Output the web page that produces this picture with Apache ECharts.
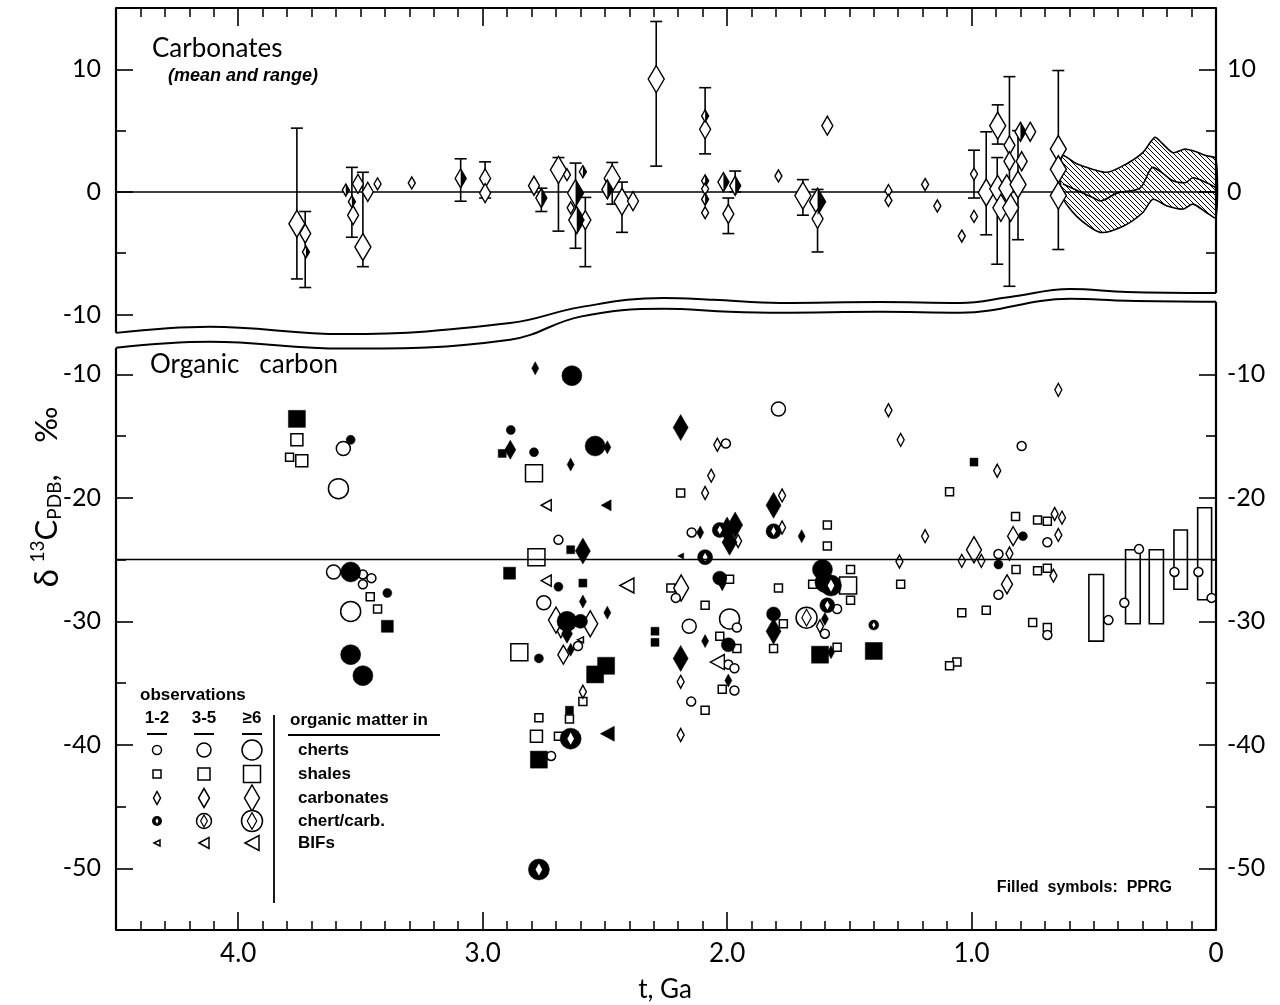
<!DOCTYPE html>
<html><head><meta charset="utf-8">
<script src="https://cdn.jsdelivr.net/npm/echarts@6/dist/echarts.min.js"></script>
<style>html,body{margin:0;padding:0;background:#fff}#c{width:1280px;height:1005px}</style>
</head><body><div id="c"></div>
<script>
// ---------------- DATA ----------------
const xTicks = [0, 1, 2, 3, 4];
const xTickLabels = ['0', '1.0', '2.0', '3.0', '4.0'];
const yTopMajorLeft = [-10, 0, 10];
const yTopMajorRight = [0, 10];
const yTopMinor = [-5, 5];
const yBotMajor = [-50, -40, -30, -20, -10];
const yBotMinor = [-45, -35, -25, -15];

// Carbonates (top panel): [t Ga, mean δ13C, observation class 1..3, PPRG 0/1]
const carbMeans = [
 [3.76,-2.6,3,0],[3.726,-3.4,2,0],[3.723,-4.9,1,1],
 [3.56,0.15,1,1],[3.535,-0.8,1,1],[3.53,-1.9,2,0],[3.51,0.65,2,0],[3.47,0.0,2,0],[3.43,0.65,1,0],[3.49,-4.5,3,0],
 [3.29,0.73,1,0],[3.09,1.1,2,1],[2.99,1.1,2,0],[2.99,-0.1,2,0],
 [2.79,0.5,2,0],[2.76,-0.5,2,1],
 [2.69,1.8,3,0],[2.655,1.4,1,0],[2.62,-0.1,3,1],[2.615,-2.3,3,1],[2.58,-2.3,2,0],[2.64,-1.3,1,0],[2.59,1.65,1,1],
 [2.47,1.1,3,0],[2.49,0.2,2,1],[2.43,-0.8,3,0],[2.385,-0.75,2,0],
 [2.29,9.2,3,0],
 [2.09,5.1,2,0],[2.09,6.2,1,1],[2.09,0.9,1,1],[2.09,0.25,1,0],[2.09,-0.6,1,1],[2.09,-1.7,1,0],
 [2.015,0.8,2,1],[1.967,0.5,2,1],[1.995,-1.8,2,0],
 [1.79,1.3,1,0],[1.59,5.4,2,0],
 [1.69,-0.3,3,0],[1.63,-0.8,3,1],[1.63,-2.2,2,0],
 [1.34,0.1,1,0],[1.34,-0.7,1,0],[1.19,0.6,1,0],[1.14,-1.15,1,0],[1.04,-3.6,1,0],
 [0.99,1.45,1,0],[0.99,-2.0,1,0],
 [0.94,-0.05,3,0],[0.893,5.4,3,0],[0.893,0.25,3,0],[0.88,-1.3,3,0],
 [0.845,3.8,2,0],[0.845,2.5,2,0],[0.856,0.3,3,0],[0.84,-1.3,3,0],[0.795,2.5,2,0],[0.81,0.6,3,0],
 [0.80,4.9,2,1],[0.76,4.9,2,0],
 [0.645,3.5,3,0],[0.645,1.85,3,0],[0.645,-0.3,3,0]
];
// ranges: [t, low, high]
const carbRanges = [
 [3.76,-7.1,5.2],[3.726,-7.8,-1.6],[3.535,-3.7,2.0],[3.49,-6.1,1.6],
 [3.09,-0.76,2.7],[2.99,-0.5,2.45],[2.76,-1.6,0.3],
 [2.69,-3.2,2.8],[2.62,-4.6,2.35],[2.58,-6.1,-0.45],
 [2.47,-1.0,2.4],[2.43,-3.3,0.8],[2.29,2.1,13.9],[2.09,3.1,8.5],
 [1.967,0.0,1.7],[1.995,-3.4,-0.5],[1.69,-1.9,1.0],[1.63,-4.9,0.2],
 [0.99,-0.5,3.4],[0.94,-3.5,4.9],[0.893,3.9,7.1],[0.895,-5.9,2.8],[0.845,-7.7,9.4],[0.81,-3.9,5.0],[0.645,-4.7,9.9]
];
// Phanerozoic carbonate band (upper, lower boundary, mean)
const bandUpper = [[0.63,2.95],[0.57,2.3],[0.447,1.6],[0.365,2.3],[0.30,3.2],[0.25,4.45],[0.222,4.0],[0.176,3.2],[0.127,3.5],[0.094,3.35],[0.038,2.95],[0,2.7]];
const bandLower = [[0.63,-0.3],[0.57,-2.0],[0.474,-3.3],[0.38,-2.8],[0.30,-1.7],[0.258,-0.6],[0.20,-1.15],[0.135,-1.4],[0.094,-1.0],[0.038,-1.7],[0,-2.1]];
const bandMean = [[0.626,0.65],[0.50,-0.5],[0.474,-0.74],[0.405,-0.1],[0.31,0.33],[0.258,2.0],[0.22,1.55],[0.176,0.9],[0.127,0.74],[0.094,1.15],[0.038,0.74],[0,0.33]];

// Organic carbon (bottom panel): [t Ga, δ13C, observation class 1..3]
const chertsOpen = [
 [3.59,-19.25,3],[3.57,-16.0,2],[3.61,-26.0,2],[3.49,-26.2,1],[3.455,-26.5,1],[3.49,-27.0,1],[3.54,-29.2,3],
 [2.69,-23.4,1],[2.75,-28.5,2],[2.61,-32.0,1],[2.72,-40.9,1],
 [2.005,-15.6,1],[1.79,-12.8,2],[2.145,-22.8,1],[2.21,-28.1,1],[2.155,-30.4,2],[1.99,-29.8,3],[1.96,-30.5,1],
 [1.995,-33.5,1],[1.97,-33.8,1],[1.97,-35.6,1],[2.147,-36.5,1],[1.55,-29.0,1],[1.60,-31.0,1],
 [0.795,-15.8,1],[0.69,-23.6,1],[0.89,-24.55,1],[0.89,-27.85,1],[0.69,-31.1,1],
 [0.44,-29.9,1],[0.375,-28.5,1],[0.315,-24.15,1],[0.17,-26.0,1],[0.072,-26.0,1],[0.018,-28.1,1]
];
const chertsFilled = [
 [3.54,-15.3,1],[3.54,-26.0,3],[3.39,-27.7,1],[3.54,-32.7,3],[3.49,-34.4,3],
 [2.635,-10.1,3],[2.885,-14.5,1],[2.79,-16.3,1],[2.54,-15.8,3],[2.69,-27.2,1],[2.655,-30.0,3],[2.60,-30.0,2],[2.77,-33.0,1],
 [2.03,-26.5,2],[1.61,-25.8,3],[1.60,-26.85,3],[1.81,-29.4,2],[1.995,-31.9,2],[0.79,-23.1,1],[0.89,-25.4,1]
];
const shalesOpen = [
 [3.76,-15.3,2],[3.79,-16.7,1],[3.74,-17.0,2],[3.46,-28.0,1],[3.43,-29.0,1],
 [2.79,-18.0,3],[2.78,-24.8,3],[2.85,-32.5,3],[2.59,-36.5,1],[2.645,-37.9,1],[2.77,-37.8,1],[2.78,-39.3,2],[2.69,-39.3,1],
 [2.19,-19.6,1],[1.59,-22.2,1],[1.59,-23.9,1],[2.23,-27.3,1],[1.99,-26.6,1],[1.79,-27.3,1],[1.65,-27.0,1],[1.505,-27.1,3],
 [1.495,-25.8,1],[1.495,-28.3,1],[1.55,-32.1,1],[1.77,-30.2,1],[1.81,-32.2,1],[2.03,-31.2,1],[1.96,-32.2,1],[2.02,-35.5,1],
 [2.09,-37.2,1],[2.09,-28.7,1],
 [1.09,-19.5,1],[0.82,-21.5,1],[0.73,-21.8,1],[0.69,-21.9,1],[0.818,-25.8,1],[0.73,-25.9,1],[0.69,-25.7,1],[1.29,-27.0,1],
 [1.04,-29.3,1],[0.94,-29.1,1],[0.75,-30.1,1],[0.69,-30.5,1],[1.06,-33.3,1],[1.09,-33.6,1]
];
const shalesFilled = [
 [3.76,-13.6,3],[3.39,-30.4,2],[2.92,-16.4,1],[2.64,-24.2,1],[2.89,-26.1,2],[2.59,-26.9,1],[2.495,-33.6,3],[2.54,-34.3,3],
 [2.645,-37.2,1],[2.77,-41.2,3],[2.295,-30.8,1],[2.295,-31.7,1],[1.62,-32.7,3],[1.40,-32.4,3],[0.99,-17.1,1]
];
const carbonatesOpen = [
 [2.04,-15.7,1],[2.065,-18.2,1],[2.09,-19.6,1],[1.775,-19.8,1],[1.775,-22.4,1],[1.955,-23.5,1],[2.188,-27.3,3],
 [2.70,-29.9,3],[2.56,-30.2,3],[2.68,-30.8,1],[2.67,-32.7,2],[2.59,-35.7,1],[2.19,-34.9,1],[2.19,-39.2,1],[1.62,-30.4,1],
 [1.34,-12.9,1],[1.29,-15.3,1],[0.645,-11.25,1],[0.895,-17.8,1],[1.19,-23.1,1],[0.66,-21.3,1],[0.63,-21.6,1],[0.645,-23.0,1],
 [0.83,-23.1,2],[0.845,-24.5,1],[0.99,-24.2,3],[0.96,-25.1,1],[1.04,-25.1,1],[1.295,-25.15,1],[0.665,-26.3,1],[0.855,-27.0,2]
];
const carbonatesFilled = [
 [2.785,-9.5,1],[2.887,-16.1,2],[2.49,-15.9,1],[2.64,-17.3,1],[2.19,-14.3,3],[1.81,-20.6,3],[1.695,-23.1,1],[2.11,-22.8,1],
 [2.0,-22.6,3],[1.967,-22.2,3],[1.99,-23.6,3],[2.59,-24.3,3],[2.59,-28.4,1],[2.49,-29.3,1],[2.655,-31.0,2],[2.64,-32.3,1],
 [2.09,-31.6,1],[2.19,-33.0,3],[1.995,-34.8,1],[1.81,-30.8,3],[1.60,-29.8,1],[1.575,-32.5,1],[2.02,-27.0,1]
];
const chertCarbOpen = [[1.675,-29.7,3]];
const chertCarbFilled = [
 [1.81,-22.7,2],[2.03,-22.6,2],[2.09,-24.8,2],[1.575,-27.1,3],[1.59,-28.7,2],[1.40,-30.3,1],[2.64,-39.5,3],[2.77,-50.1,3]
];
const bifsOpen = [[2.74,-20.6,2],[2.74,-26.7,2],[2.41,-27.1,3],[2.60,-31.5,1],[2.04,-33.3,3]];
const bifsFilled = [[2.495,-20.6,2],[2.19,-24.7,1],[2.49,-39.1,3]];
// Phanerozoic organic ranges: [t older, t younger, low, high]
const phanRanges = [[0.52,0.46,-31.6,-26.2],[0.37,0.31,-30.2,-24.2],[0.273,0.215,-30.2,-24.2],[0.172,0.117,-27.4,-22.6],[0.075,0.018,-28.25,-20.8]];

// axis break outlines
const breakTop = [[4.5,-11.5],[4.116,-11.0],[3.572,-11.6],[2.888,-10.7],[2.60,-9.4],[2.26,-8.65],[2.057,-8.8],[1.783,-9.06],[1.374,-8.98],[1.047,-9.06],[0.843,-8.57],[0.597,-7.92],[0.364,-8.16],[0,-8.24]];
const breakBottom = [[4.5,-7.83],[4.116,-7.35],[3.572,-7.91],[2.888,-7.19],[2.60,-5.32],[2.26,-4.68],[1.99,-4.92],[1.783,-5.0],[1.374,-4.92],[1.047,-5.0],[0.597,-3.87],[0.364,-4.03],[0,-4.11]];

const legendRows = ['cherts', 'shales', 'carbonates', 'chert/carb.', 'BIFs'];
const legendCols = ['1-2', '3-5', '≥6'];

// ---------------- STYLE ----------------
const F = 'Lato, "DejaVu Sans", sans-serif';
const LF = '"Liberation Sans", Arial, sans-serif';
const SZ = {
  circle: [0, 9, 14, 20],
  rect: [0, 8, 12, 17],
  diamond: [0, [7,13], [11,19], [15,26]],
  tri: [0, [6,6], [11,10], [15,14]],
  cc: [0, 10, 15, 21]
};
const TOPD = [0, [7,12], [11,19], [16,27]];
const OPEN = {color:'#fff', borderColor:'#000', borderWidth:1.5, opacity:1};
const FILL = {color:'#000', borderColor:'#000', borderWidth:0.5, opacity:1};

function scat(name, data, grid, symbol, sizes, style, extra) {
  return Object.assign({
    name, type:'scatter', xAxisIndex: grid, yAxisIndex: grid === 0 ? 0 : 4,
    data: data.map(d => [d[0], d[1], d[2]]), symbol,
    symbolSize: v => sizes[v[2]], itemStyle: style, silent: true, animation:false, emphasis:{disabled:true}
  }, extra || {});
}
function lineS(data, grid, smooth, w) {
  return {type:'line', xAxisIndex:grid, yAxisIndex: grid === 0 ? 0 : 4, data, symbol:'none', smooth: smooth,
    clip:false, silent:true, animation:false, lineStyle:{color:'#000', width:w || 2, opacity:1}, z:5};
}

function makeHatch() {
  const c = document.createElement('canvas'); c.width = 5; c.height = 5;
  const g = c.getContext('2d'); g.strokeStyle = '#000'; g.lineWidth = 1;
  g.beginPath(); g.moveTo(0,0); g.lineTo(5,5); g.moveTo(-1,4); g.lineTo(1,6); g.moveTo(4,-1); g.lineTo(6,1); g.stroke();
  return c;
}
const hatch = makeHatch();

const series = [];
series.push(lineS([[4.5,0],[0,0]], 0, false, 1.5));
series.push(lineS([[4.5,-25],[0,-25]], 1, false, 1.5));
series.push(lineS(breakTop, 0, 0.4, 2));
series.push(lineS([[4.5, breakTop[0][1]],[4.5,15]], 0, false, 2.2));
series.push(lineS([[0, breakTop[breakTop.length-1][1]],[0,15]], 0, false, 2.2));
series.push(lineS(breakBottom, 1, 0.4, 2));
series.push(lineS([[4.5, breakBottom[0][1]],[4.5,-55]], 1, false, 2.2));
series.push(lineS([[0, breakBottom[breakBottom.length-1][1]],[0,-55]], 1, false, 2.2));

series.push({type:'custom', xAxisIndex:0, yAxisIndex:0, silent:true, animation:false, data:[[0.3,0]], z:3,
  renderItem: (p, api) => {
    const pts = bandUpper.map(q => api.coord(q)).concat(bandLower.slice().reverse().map(q => api.coord(q)));
    return {type:'polygon', shape:{points:pts, smooth:0.25}, style:{fill:{image:hatch, repeat:'repeat'}, stroke:'#000', lineWidth:1.6}};
  }});
series.push(Object.assign(lineS(bandMean, 0, 0.3, 1.6), {z:4}));

series.push({type:'custom', xAxisIndex:0, yAxisIndex:0, silent:true, animation:false, data:carbRanges, encode:{x:0, y:[1,2]}, z:2,
  renderItem: (p, api) => {
    const t = api.value(0), a = api.coord([t, api.value(2)]), b = api.coord([t, api.value(1)]), c = 6;
    const st = {stroke:'#000', lineWidth:1.6};
    return {type:'group', children:[
      {type:'line', shape:{x1:a[0], y1:a[1], x2:b[0], y2:b[1]}, style:st},
      {type:'line', shape:{x1:a[0]-c, y1:a[1], x2:a[0]+c, y2:a[1]}, style:st},
      {type:'line', shape:{x1:b[0]-c, y1:b[1], x2:b[0]+c, y2:b[1]}, style:st}
    ]};
  }});
series.push({type:'scatter', xAxisIndex:0, yAxisIndex:0, silent:true, animation:false, z:6, emphasis:{disabled:true},
  data: carbMeans.map(d => [d[0], d[1], d[2]]), symbol:'diamond', symbolSize: v => TOPD[v[2]], itemStyle: OPEN});
series.push({type:'scatter', xAxisIndex:0, yAxisIndex:0, silent:true, animation:false, z:7, emphasis:{disabled:true},
  data: carbMeans.filter(d => d[3] === 1).map(d => {
    const s = TOPD[d[2]];
    return {value:[d[0], d[1]], symbolSize:[s[0]/2, s[1]], symbolOffset:[s[0]/4, 0]};
  }), symbol:'path://M0,0L1,1L0,2Z', itemStyle:{color:'#000', opacity:1}});

series.push({type:'custom', xAxisIndex:1, yAxisIndex:4, silent:true, animation:false, data:phanRanges, encode:{x:[0,1], y:[2,3]}, z:2,
  renderItem: (p, api) => {
    const a = api.coord([api.value(0), api.value(3)]), b = api.coord([api.value(1), api.value(2)]);
    return {type:'rect', shape:{x:a[0], y:a[1], width:b[0]-a[0], height:b[1]-a[1]}, style:{fill:'#fff', stroke:'#000', lineWidth:1.6}};
  }});

const triRot = {symbolRotate: 90};
series.push(scat('shales', shalesOpen, 1, 'rect', SZ.rect, OPEN));
series.push(scat('carbonates', carbonatesOpen, 1, 'diamond', SZ.diamond, OPEN));
series.push(scat('cherts', chertsOpen, 1, 'circle', SZ.circle, OPEN));
series.push(scat('BIFs', bifsOpen, 1, 'triangle', SZ.tri, OPEN, triRot));
series.push(scat('chert/carb.', chertCarbOpen, 1, 'circle', SZ.cc, OPEN));
series.push(scat('chert/carb. inner', chertCarbOpen, 1, 'diamond', SZ.cc.map(s => [s*0.45, s*0.8]), Object.assign({}, OPEN, {borderWidth:1.2})));
series.push(scat('shales PPRG', shalesFilled, 1, 'rect', SZ.rect, FILL));
series.push(scat('carbonates PPRG', carbonatesFilled, 1, 'diamond', SZ.diamond, FILL));
series.push(scat('cherts PPRG', chertsFilled, 1, 'circle', SZ.circle, FILL));
series.push(scat('BIFs PPRG', bifsFilled, 1, 'triangle', SZ.tri, FILL, triRot));
series.push(scat('chert/carb. PPRG', chertCarbFilled, 1, 'circle', SZ.cc, FILL));
series.push(scat('chert/carb. PPRG inner', chertCarbFilled, 1, 'diamond', SZ.cc.map(s => [s*0.32, s*0.58]), {color:'#fff', borderWidth:0, opacity:1}));

// ---------------- AXES ----------------
function xAx(grid, pos, showLabel) {
  return {gridIndex:grid, type:'value', min:0, max:4.5, interval:1, inverse:true, position:pos,
    axisLine:{show:true, onZero:false, lineStyle:{color:'#000', width:2.2}},
    axisTick:{show:true, inside:true, length:18, customValues:xTicks, lineStyle:{color:'#000', width:1.6}},
    minorTick:{show:true, splitNumber:10, length:9, lineStyle:{color:'#000', width:1.5}},
    axisLabel:{show:showLabel, customValues:xTicks, margin:11, color:'#000', fontSize:26, fontFamily:F,
      formatter: v => xTickLabels[xTicks.indexOf(v)] || ''},
    splitLine:{show:false}, minorSplitLine:{show:false}};
}
function yAx(grid, pos, ticks, labels, len) {
  const mm = grid === 0 ? {min:-12, max:15} : {min:-55, max:-3};
  return Object.assign({gridIndex:grid, type:'value', position:pos,
    axisLine:{show:false, onZero:false}, splitLine:{show:false},
    axisTick:{show:true, inside:true, length:len, customValues:ticks, lineStyle:{color:'#000', width:1.6}},
    axisLabel:{show: !!labels, customValues: labels || ticks, margin: pos === 'left' ? 15 : 11,
      color:'#000', fontSize:25, fontFamily:F}}, mm);
}

const graphic = [];
function txt(x, y, text, size, opt) {
  graphic.push({type:'text', x, y, silent:true, style:Object.assign({text, fontSize:size, fontFamily:F, fill:'#000', align:'left', verticalAlign:'middle'}, opt || {})});
}
txt(152, 49, 'Carbonates', 26);
txt(168, 76, '(mean and range)', 18, {fontStyle:'italic', fontWeight:'bold', fontFamily:LF});
txt(150, 365, 'Organic   carbon', 26);
txt(665, 990, 't, Ga', 26, {align:'center'});
txt(1172, 888, 'Filled  symbols:  PPRG', 16, {fontFamily:LF, fontWeight:'bold', align:'right'});
graphic.push({type:'text', x:47, y:497, rotation:Math.PI/2, silent:true, style:{
  text:'{d|δ}  {sup|13}{c|C}{sub|PDB}{c|,    ‰}', align:'center', verticalAlign:'middle', fill:'#000',
  rich:{d:{fontSize:33, fontFamily:F}, c:{fontSize:31, fontFamily:F},
        sup:{fontSize:19, fontFamily:F, padding:[0,0,18,0]}, sub:{fontSize:19, fontFamily:F, padding:[16,0,0,0]}}}});
txt(140, 695, 'observations', 17, {fontFamily:LF, fontWeight:'bold'});
const colX = [157, 204, 252], rowY = [750, 774, 798, 821, 843];
legendCols.forEach((c, i) => {
  txt(colX[i], 718, c, 17, {fontFamily:LF, fontWeight:'bold', align:'center'});
  graphic.push({type:'line', silent:true, shape:{x1:colX[i]-10, y1:734, x2:colX[i]+10, y2:734}, style:{stroke:'#000', lineWidth:2}});
});
txt(290, 720, 'organic matter in', 17, {fontFamily:LF, fontWeight:'bold'});
graphic.push({type:'line', silent:true, shape:{x1:288, y1:735, x2:440, y2:735}, style:{stroke:'#000', lineWidth:1.8}});
graphic.push({type:'line', silent:true, shape:{x1:274, y1:715, x2:274, y2:903}, style:{stroke:'#000', lineWidth:1.8}});
const LS = {fill:'#fff', stroke:'#000', lineWidth:1.5};
legendRows.forEach((r, j) => {
  const y = rowY[j];
  txt(298, y, r, 17, {fontFamily:LF, fontWeight:'bold'});
  for (let k = 1; k <= 3; k++) {
    const x = colX[k-1];
    if (j === 0) graphic.push({type:'circle', silent:true, shape:{cx:x, cy:y, r:SZ.circle[k]/2}, style:LS});
    if (j === 1) { const s = SZ.rect[k]; graphic.push({type:'rect', silent:true, shape:{x:x-s/2, y:y-s/2, width:s, height:s}, style:LS}); }
    if (j === 2) { const s = SZ.diamond[k]; graphic.push({type:'polygon', silent:true, shape:{points:[[x,y-s[1]/2],[x+s[0]/2,y],[x,y+s[1]/2],[x-s[0]/2,y]]}, style:LS}); }
    if (j === 3) {
      const s = SZ.cc[k];
      graphic.push({type:'circle', silent:true, shape:{cx:x, cy:y, r:s/2}, style: k === 1 ? {fill:'#000'} : LS});
      const w = k === 1 ? s*0.3 : s*0.45, h = k === 1 ? s*0.55 : s*0.8;
      graphic.push({type:'polygon', silent:true, shape:{points:[[x,y-h/2],[x+w/2,y],[x,y+h/2],[x-w/2,y]]}, style: k === 1 ? {fill:'#fff'} : Object.assign({}, LS, {lineWidth:1.2})});
    }
    if (j === 4) { const s = SZ.tri[k]; graphic.push({type:'polygon', silent:true, shape:{points:[[x-s[1]/2,y],[x+s[1]/2,y-s[0]/2],[x+s[1]/2,y+s[0]/2]]}, style:LS}); }
  }
});

const chart = echarts.init(document.getElementById('c'), null, {renderer:'canvas'});
chart.setOption({
  animation:false, backgroundColor:'#fff',
  grid:[
    {left:116, right:64, top:8, height:331, outerBoundsMode:'none', containLabel:false},
    {left:116, right:64, top:288, height:642, outerBoundsMode:'none', containLabel:false}
  ],
  xAxis:[xAx(0, 'top', false), xAx(1, 'bottom', true)],
  yAxis:[
    yAx(0, 'left', yTopMajorLeft, yTopMajorLeft, 17),
    yAx(0, 'left', yTopMinor, null, 10),
    yAx(0, 'right', yTopMajorRight, yTopMajorRight, 17),
    yAx(0, 'right', yTopMinor, null, 10),
    yAx(1, 'left', yBotMajor, yBotMajor, 17),
    yAx(1, 'left', yBotMinor, null, 10),
    yAx(1, 'right', yBotMajor, yBotMajor, 17),
    yAx(1, 'right', yBotMinor, null, 10)
  ],
  series, graphic
});
</script></body></html>
